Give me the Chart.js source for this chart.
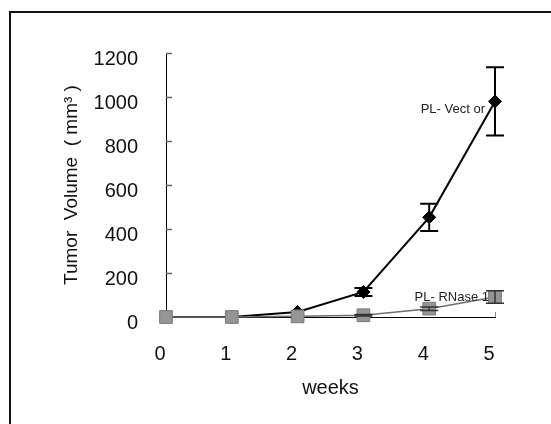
<!DOCTYPE html>
<html>
<head>
<meta charset="utf-8">
<script src="https://cdn.jsdelivr.net/npm/chart.js@4/dist/chart.umd.min.js"></script>
<style>
html,body{margin:0;padding:0;background:#fff;}
#wrap{width:551px;height:424px;position:relative;}
</style>
</head>
<body>
<div id="wrap"><canvas id="c" width="551" height="424"></canvas></div>
<script>
const weeks = [0, 1, 2, 3, 4, 5];
const vectorValues = [0, 0, 23, 114, 453, 980];
const vectorErrors = [0, 0, 0, 18, 62, 155];
const rnaseValues = [0, 0, 3, 8, 38, 91];
const rnaseErrors = [0, 0, 0, 3, 8, 28];
const yTicks = [0, 200, 400, 600, 800, 1000, 1200];
const xTicks = [0, 1, 2, 3, 4, 5];
const seriesNames = ['PL- Vect or', 'PL- RNase 1'];
const xTitle = 'weeks';
const yTitle = 'Tumor  Volume  ( mm\u00B3 )';

const FONT = "'Liberation Sans', Arial, sans-serif";

const framePlugin = {
  id: 'frame',
  beforeDraw(chart) {
    const ctx = chart.ctx;
    ctx.save();
    ctx.strokeStyle = '#111';
    ctx.lineWidth = 2;
    ctx.beginPath();
    ctx.moveTo(10, 424);
    ctx.lineTo(10, 12);
    ctx.lineTo(551, 12);
    ctx.stroke();
    ctx.restore();
  }
};

const axisTicksPlugin = {
  id: 'axisTicks',
  afterDraw(chart) {
    const ctx = chart.ctx;
    const y = chart.scales.y, x = chart.scales.x;
    ctx.save();
    ctx.strokeStyle = '#666';
    ctx.lineWidth = 1.5;
    yTicks.forEach(v => {
      if (v === 0) return;
      const py = Math.round(y.getPixelForValue(v)) + 0.5;
      ctx.beginPath();
      ctx.moveTo(x.left, py);
      ctx.lineTo(x.left + 6, py);
      ctx.stroke();
    });
    const px = x.getPixelForValue(xTicks[xTicks.length - 1]);
    const p0 = y.getPixelForValue(0);
    ctx.strokeStyle = '#888';
    ctx.lineWidth = 1;
    ctx.beginPath();
    ctx.moveTo(px + 0.5, p0);
    ctx.lineTo(px + 0.5, p0 - 5);
    ctx.stroke();
    ctx.restore();
  }
};

const errorBarPlugin = {
  id: 'errorBars',
  afterDatasetsDraw(chart) {
    const ctx = chart.ctx;
    const xs = chart.scales.x, ys = chart.scales.y;
    ctx.save();
    const sets = [
      {vals: rnaseValues, errs: rnaseErrors, color: '#333', w: 1.5, cap: 9},
      {vals: vectorValues, errs: vectorErrors, color: '#000', w: 2, cap: 9}
    ];
    sets.forEach(s => {
      ctx.strokeStyle = s.color;
      ctx.lineWidth = s.w;
      weeks.forEach((wk, i) => {
        const e = s.errs[i];
        if (!e) return;
        const px = xs.getPixelForValue(wk);
        const top = ys.getPixelForValue(s.vals[i] + e);
        const bot = ys.getPixelForValue(Math.max(0, s.vals[i] - e));
        ctx.beginPath();
        ctx.moveTo(px, top); ctx.lineTo(px, bot);
        ctx.moveTo(px - s.cap, top); ctx.lineTo(px + s.cap, top);
        ctx.moveTo(px - s.cap, bot); ctx.lineTo(px + s.cap, bot);
        ctx.stroke();
      });
    });
    ctx.restore();
  }
};

const labelPlugin = {
  id: 'seriesLabels',
  afterDraw(chart) {
    const ctx = chart.ctx;
    const xs = chart.scales.x, ys = chart.scales.y;
    const last = weeks.length - 1;
    ctx.save();
    ctx.fillStyle = '#222';
    ctx.font = '13px ' + FONT;
    ctx.textAlign = 'right';
    ctx.textBaseline = 'middle';
    ctx.fillText(seriesNames[0], xs.getPixelForValue(weeks[last]) - 10, ys.getPixelForValue(vectorValues[last]) + 8);
    ctx.fillText(seriesNames[1], xs.getPixelForValue(weeks[last]) - 6, ys.getPixelForValue(rnaseValues[last]) + 0);
    ctx.restore();
  }
};

new Chart(document.getElementById('c'), {
  type: 'line',
  data: {
    datasets: [
      {
        label: seriesNames[1],
        data: weeks.map((w, i) => ({x: w, y: rnaseValues[i]})),
        borderColor: '#6e6e6e',
        borderWidth: 1.5,
        pointStyle: 'rect',
        pointRadius: 9,
        pointBackgroundColor: '#959595',
        pointBorderColor: '#7a7a7a',
        pointBorderWidth: 1,
        tension: 0,
        clip: false,
        order: 0
      },
      {
        label: seriesNames[0],
        data: weeks.map((w, i) => ({x: w, y: vectorValues[i]})),
        borderColor: '#000',
        borderWidth: 2,
        pointStyle: 'rectRot',
        pointRadius: 6.5,
        pointBackgroundColor: '#000',
        pointBorderColor: '#000',
        pointBorderWidth: 1,
        tension: 0,
        clip: false,
        order: 1
      }
    ]
  },
  options: {
    responsive: false,
    animation: false,
    events: [],
    layout: {padding: {left: 0, right: 56, top: 53, bottom: 0}},
    plugins: {legend: {display: false}, tooltip: {enabled: false}},
    scales: {
      x: {
        type: 'linear',
        min: 0, max: 5,
        afterFit(s) { s.height = 107; },
        afterBuildTicks(s) { s.ticks = xTicks.map(v => ({value: v})); },
        grid: {display: true, drawOnChartArea: false, drawTicks: false},
        border: {display: true, color: '#000', width: 1},
        ticks: {
          padding: 25, labelOffset: -6,
          color: '#111', font: {family: FONT, size: 20},
          callback: v => String(v)
        },
        title: {
          display: true, text: xTitle, color: '#111',
          font: {family: FONT, size: 20},
          padding: {top: 0, bottom: 24}
        }
      },
      y: {
        type: 'linear',
        min: 0, max: 1200,
        afterFit(s) { s.width = 166; },
        afterBuildTicks(s) { s.ticks = yTicks.map(v => ({value: v})); },
        grid: {display: true, drawOnChartArea: false, drawTicks: false},
        border: {display: true, color: '#000', width: 1},
        ticks: {
          padding: 28, labelOffset: 6,
          color: '#111', font: {family: FONT, size: 20},
          callback: v => String(v)
        },
        title: {
          display: true, text: yTitle, color: '#111',
          font: {family: FONT, size: 19},
          padding: {top: 60, bottom: 0}
        }
      }
    }
  },
  plugins: [framePlugin, axisTicksPlugin, errorBarPlugin, labelPlugin]
});
</script>
</body>
</html>
